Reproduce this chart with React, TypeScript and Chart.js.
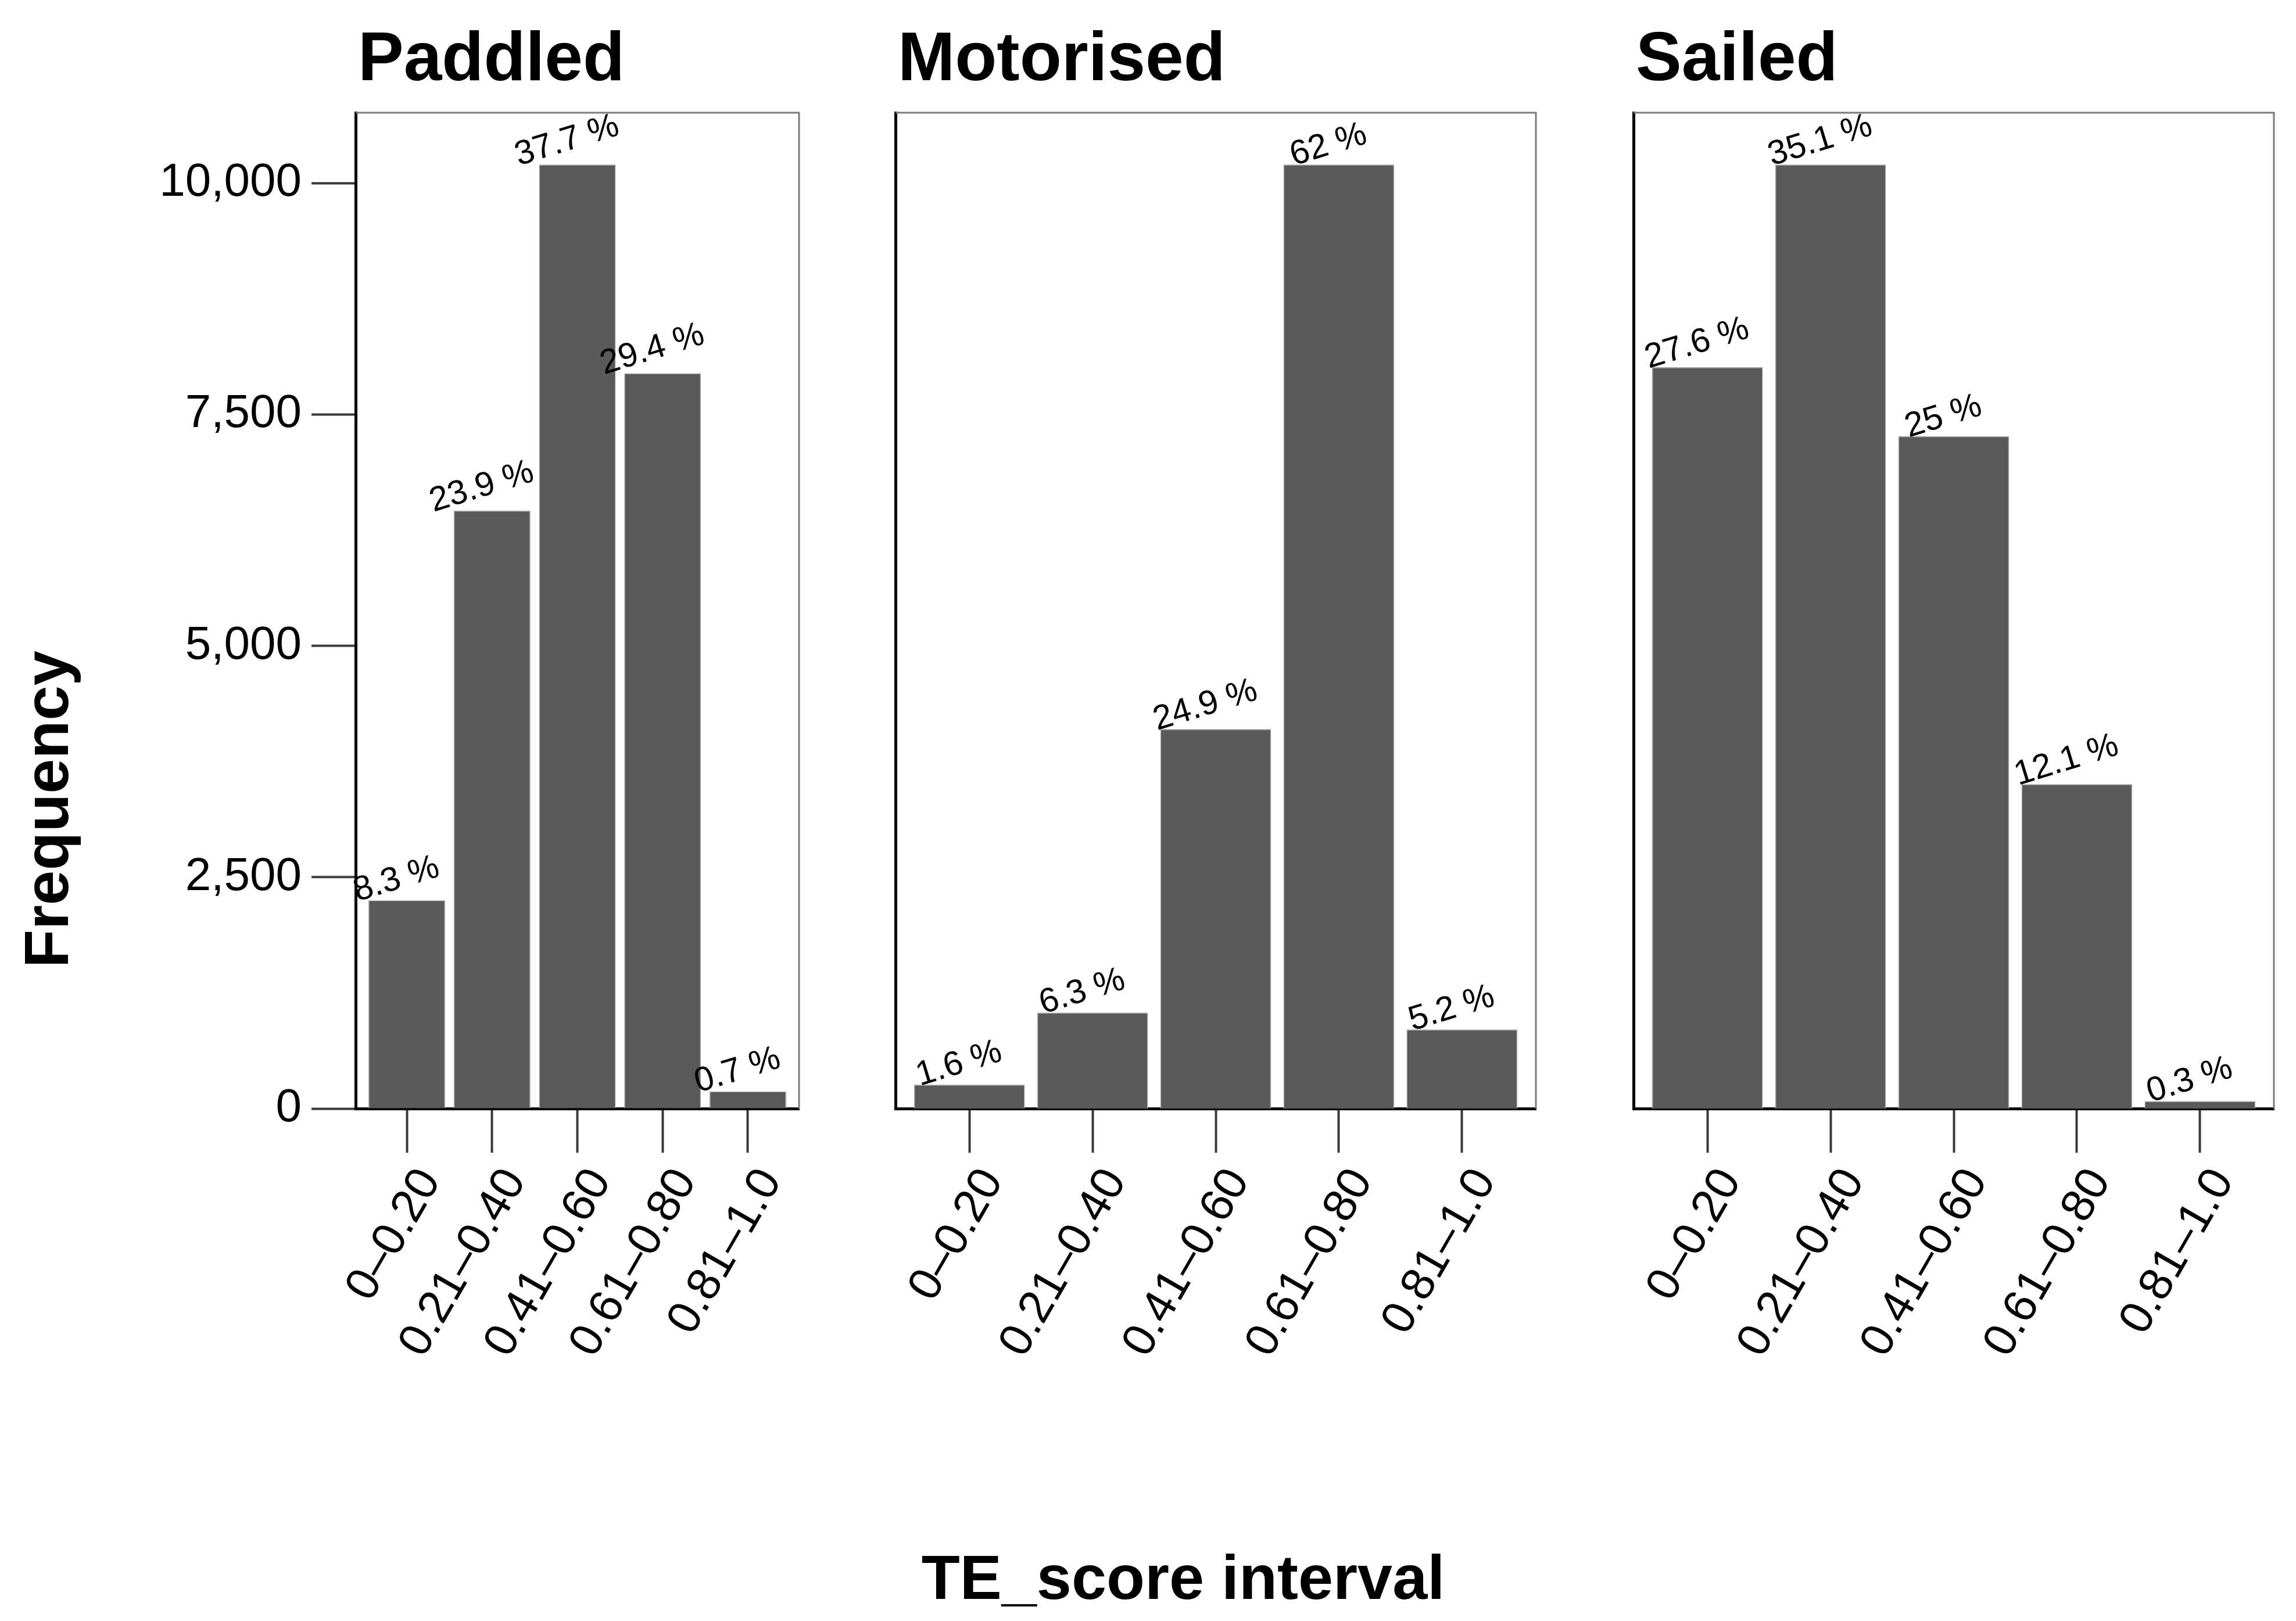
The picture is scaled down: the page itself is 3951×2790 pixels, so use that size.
import React, { useEffect, useRef } from 'react';
import { Chart, registerables } from 'chart.js';

Chart.register(...registerables);

const categories = ['0–0.20', '0.21–0.40', '0.41–0.60', '0.61–0.80', '0.81–1.0'];
const panelTitles = ['Paddled', 'Motorised', 'Sailed'];
const paddledCounts = [2250, 6460, 10200, 7945, 185];
const motorisedCounts = [258, 1036, 4100, 10200, 854];
const sailedCounts = [8010, 10200, 7265, 3505, 80];
const paddledPct = ['8.3 %', '23.9 %', '37.7 %', '29.4 %', '0.7 %'];
const motorisedPct = ['1.6 %', '6.3 %', '24.9 %', '62 %', '5.2 %'];
const sailedPct = ['27.6 %', '35.1 %', '25 %', '12.1 %', '0.3 %'];
const yTicks = [0, 2500, 5000, 7500, 10000];
const yMax = 10760;
const yAxisTitle = 'Frequency';
const xAxisTitle = 'TE_score interval';

const W = 3951;
const H = 2790;
const FONT = "'Liberation Sans', Arial, Helvetica, sans-serif";
Chart.defaults.font.family = FONT;

const PLOT_TOP = 194;
const PLOT_BOTTOM = 1908;

type Panel = {
  title: string;
  counts: number[];
  pct: string[];
  canvasLeft: number;
  canvasWidth: number;
  plotLeft: number;
  padRight: number;
  showY: boolean;
  extra: 'y' | 'x' | null;
};

const panels: Panel[] = [
  { title: panelTitles[0], counts: paddledCounts, pct: paddledPct, canvasLeft: 0, canvasWidth: 1458, plotLeft: 612, padRight: 83, showY: true, extra: 'y' },
  { title: panelTitles[1], counts: motorisedCounts, pct: motorisedPct, canvasLeft: 1458, canvasWidth: 1269, plotLeft: 83, padRight: 84, showY: false, extra: 'x' },
  { title: panelTitles[2], counts: sailedCounts, pct: sailedPct, canvasLeft: 2727, canvasWidth: 1224, plotLeft: 84, padRight: 38, showY: false, extra: null },
];

function makeDecor(p: Panel) {
  return {
    id: 'decor',
    afterDatasetsDraw(chart: any) {
      const ctx = chart.ctx as CanvasRenderingContext2D;
      const area = chart.chartArea;
      ctx.save();
      // thin grey frame on top and right
      ctx.strokeStyle = '#7a7a7a';
      ctx.lineWidth = 3;
      ctx.beginPath();
      ctx.moveTo(area.left, area.top);
      ctx.lineTo(area.right, area.top);
      ctx.lineTo(area.right, area.bottom);
      ctx.stroke();

      // percentage labels
      const meta = chart.getDatasetMeta(0);
      const th = (17 * Math.PI) / 180;
      ctx.font = `59px ${FONT}`;
      ctx.fillStyle = '#000';
      ctx.textAlign = 'left';
      ctx.textBaseline = 'alphabetic';
      meta.data.forEach((bar: any, i: number) => {
        const txt = p.pct[i];
        const L = ctx.measureText(txt).width;
        const x0 = bar.x - (L * Math.cos(th)) / 2 - 13;
        const y0 = bar.y + 2;
        ctx.save();
        ctx.translate(x0, y0);
        ctx.rotate(-th);
        ctx.fillText(txt, 0, 0);
        ctx.restore();
      });

      // panel title
      ctx.font = `bold 118px ${FONT}`;
      ctx.textAlign = 'left';
      ctx.fillText(p.title, area.left + 4, 138);

      // shared axis titles
      ctx.font = `bold 108px ${FONT}`;
      if (p.extra === 'y') {
        ctx.save();
        ctx.translate(117, 1393);
        ctx.rotate(-Math.PI / 2);
        ctx.textAlign = 'center';
        ctx.fillText(yAxisTitle, 0, 0);
        ctx.restore();
      } else if (p.extra === 'x') {
        ctx.textAlign = 'center';
        ctx.fillText(xAxisTitle, 2036 - p.canvasLeft, 2752);
      }
      ctx.restore();
    },
  };
}

function makeConfig(p: Panel): any {
  return {
    type: 'bar',
    data: {
      datasets: [
        {
          data: p.counts.map((v, i) => ({ x: i, y: v })),
          backgroundColor: '#595959',
          borderColor: '#a3a3a3',
          borderWidth: 1.5,
          barPercentage: 0.9,
          categoryPercentage: 1.0,
        },
      ],
    },
    options: {
      responsive: false,
      animation: false,
      devicePixelRatio: 1,
      layout: { padding: { top: PLOT_TOP, right: p.padRight, bottom: 0, left: 0 } },
      plugins: { legend: { display: false }, tooltip: { enabled: false }, title: { display: false } },
      scales: {
        x: {
          type: 'linear',
          min: -0.6,
          max: 4.6,
          offset: false,
          z: 1,
          afterBuildTicks: (s: any) => {
            s.ticks = categories.map((_, i) => ({ value: i }));
          },
          afterFit: (s: any) => {
            s.height = H - PLOT_BOTTOM;
          },
          grid: { display: true, offset: false, drawOnChartArea: false, drawTicks: true, tickLength: 76, tickWidth: 4, tickColor: '#3a3a3a' },
          border: { display: true, color: '#000', width: 5 },
          ticks: {
            autoSkip: false,
            maxRotation: 60,
            minRotation: 60,
            padding: 12,
            labelOffset: 40,
            color: '#000',
            font: { size: 80, family: FONT },
            callback: (v: number) => categories[Math.round(v)] ?? '',
          },
        },
        y: {
          min: 0,
          max: yMax,
          afterBuildTicks: (s: any) => {
            s.ticks = yTicks.map((v) => ({ value: v }));
          },
          afterFit: (s: any) => {
            s.width = p.plotLeft;
          },
          grid: { display: p.showY, drawOnChartArea: false, drawTicks: p.showY, tickLength: 76, tickWidth: 4, tickColor: '#3a3a3a' },
          border: { display: true, color: '#000', width: 5 },
          ticks: {
            display: p.showY,
            padding: 17,
            color: '#000',
            font: { size: 80, family: FONT },
            callback: (v: number) => v.toLocaleString('en-US'),
          },
        },
      },
    },
    plugins: [makeDecor(p)],
  };
}

export default function App() {
  const r0 = useRef<HTMLCanvasElement>(null);
  const r1 = useRef<HTMLCanvasElement>(null);
  const r2 = useRef<HTMLCanvasElement>(null);
  const refs = [r0, r1, r2];

  useEffect(() => {
    document.body.style.margin = '0';
    const charts = panels.map((p, i) => new Chart(refs[i].current as HTMLCanvasElement, makeConfig(p)));
    return () => charts.forEach((c) => c.destroy());
  }, []);

  return (
    <div style={{ position: 'relative', width: W, height: H, background: '#fff', overflow: 'hidden' }}>
      {panels.map((p, i) => (
        <canvas
          key={i}
          ref={refs[i]}
          width={p.canvasWidth}
          height={H}
          style={{ position: 'absolute', left: p.canvasLeft, top: 0, width: p.canvasWidth, height: H }}
        />
      ))}
    </div>
  );
}
